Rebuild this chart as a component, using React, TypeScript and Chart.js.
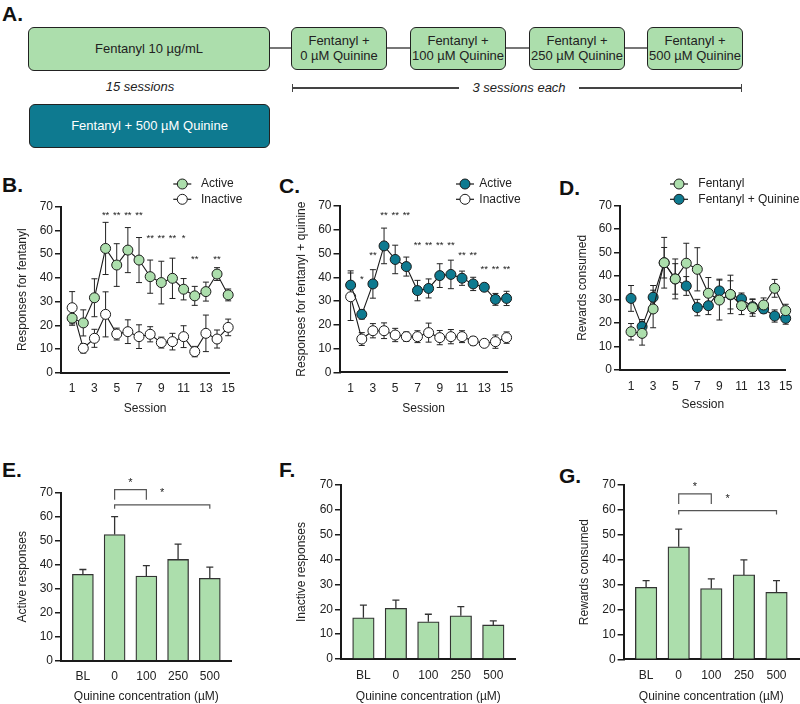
import React, { useEffect, useRef } from "react";
import { Chart, registerables } from "chart.js";

Chart.register(...registerables);

const FONT = '"Liberation Sans", Arial, Helvetica, sans-serif';
Chart.defaults.font.family = FONT;
const GREEN = "#ACDEAC";
const TEAL = "#0E7A90";
const INK = "#1a1a1a";

// ---------- data ----------
const sessions = [1, 2, 3, 4, 5, 6, 7, 8, 9, 10, 11, 12, 13, 14, 15];
const sessionTicks = [1, 3, 5, 7, 9, 11, 13, 15];
const yTicks = [0, 10, 20, 30, 40, 50, 60, 70];

const activeFent = [23, 21, 31.6, 52.4, 45.4, 51.7, 47.5, 40.5, 38, 39.8, 35.2, 32.4, 34.2, 41.6, 32.8];
const activeFentSem = [3, 5.5, 8, 11, 9, 9.5, 9.5, 7, 9, 8.5, 4.5, 4, 4, 2.7, 2.5];
const inactiveFent = [27.4, 10.3, 14.5, 24.6, 16.3, 17.3, 15.2, 16.2, 12.7, 13.1, 15.2, 8.9, 16.6, 14.2, 19.1];
const inactiveFentSem = [6.8, 2, 3.8, 9.5, 2.5, 5, 5, 3.2, 2.3, 3.5, 4.6, 2.2, 7.7, 3.8, 3.5];

const activeQuin = [36.7, 24.4, 37.2, 53.2, 47.5, 44.5, 34.4, 35.3, 40.7, 41.2, 39.6, 37.2, 35.8, 30.7, 31.1];
const activeQuinSem = [6, 2, 6, 7.5, 6, 4, 4.3, 4, 5, 6, 3, 2.8, 1.5, 2.5, 3];
const inactiveQuin = [31.8, 14, 17.5, 17.5, 15.7, 15, 15, 16.7, 14.6, 15, 15, 13.2, 12.2, 12.9, 14.6];
const inactiveQuinSem = [10, 2.7, 3, 3.3, 2.8, 2, 2.5, 4, 3, 3, 2.5, 1.8, 1, 2.8, 2.4];

const rewardsFent = [16.3, 15.6, 26, 45.7, 38.8, 45.5, 42.9, 32.7, 29.8, 32.2, 27.4, 26.6, 27.7, 34.8, 25.3];
const rewardsFentSem = [3.5, 5, 8, 10.8, 8.5, 8.5, 9.2, 6.7, 8.5, 8.2, 3.8, 3.7, 3, 3.8, 2.7];
const rewardsQuin = [30.5, 18.5, 31, 45.7, 38.8, 35.8, 26.6, 27.4, 33.7, 32, 30.3, 27, 26, 23, 22];
const rewardsQuinSem = [5.5, 3, 5, 6.5, 6.5, 4, 3.5, 3.8, 5, 6, 2.5, 3, 1.8, 2.6, 2.5];

const bStarX = [4, 5, 6, 7, 8, 9, 10, 11, 12, 14];
const bStarText = ["**", "**", "**", "**", "**", "**", "**", "*", "**", "**"];
const bStarY = [67.6, 67.6, 67.6, 67.6, 57.7, 57.7, 57.7, 57.7, 49, 49];

const cStarX = [2, 3, 4, 5, 6, 7, 8, 9, 10, 11, 12, 13, 14, 15];
const cStarText = ["*", "**", "**", "**", "**", "**", "**", "**", "**", "**", "**", "**", "**", "**"];
const cStarY = [40.3, 50.5, 67.2, 67.2, 67.2, 54.6, 54.6, 54.6, 54.6, 50.4, 50.4, 44.5, 44.5, 44.5];

const concLabels = ["BL", "0", "100", "250", "500"];
const concIndex = [0, 1, 2, 3, 4];
const activeResp = [36, 52.6, 35.3, 42.2, 34.3];
const activeRespSem = [2, 7.4, 4.3, 6.4, 4.7];
const inactiveResp = [16.6, 20.4, 15, 17.4, 13.7];
const inactiveRespSem = [5.1, 3.3, 3, 3.7, 1.6];
const rewardsConc = [28.9, 45.2, 28.4, 33.9, 26.9];
const rewardsConcSem = [2.7, 7.1, 3.9, 6, 4.7];

const eBrFrom = [1, 1];
const eBrTo = [2, 4];
const eBrTop = [71.3, 64.9];
const eBrLeg = [67.1, 63.3];
const eStarX = [1.5, 2.5];
const eStarY = [75.5, 71.1];

const gBrFrom = [1, 1];
const gBrTo = [2, 4];
const gBrTop = [66.4, 59.7];
const gBrLeg = [62.4, 58.2];
const gStarX = [1.5, 2.5];
const gStarY = [70.7, 65.7];

// ---------- plugins ----------
const errorBarPlugin = {
  id: "errorBars",
  beforeDatasetsDraw(chart: any) {
    const { ctx } = chart;
    const x = chart.scales.x;
    const y = chart.scales.y;
    ctx.save();
    chart.data.datasets.forEach((ds: any) => {
      if (!ds.errors) return;
      ctx.strokeStyle = ds.errorColor || "#222";
      ctx.lineWidth = ds.errorWidth || 1;
      const half = ds.capHalf || 3;
      ds.data.forEach((pt: any, j: number) => {
        const e = ds.errors[j];
        const px = x.getPixelForValue(pt.x);
        const yTop = y.getPixelForValue(pt.y + e);
        const yBot = ds.errorUpOnly ? y.getPixelForValue(pt.y) : y.getPixelForValue(pt.y - e);
        ctx.beginPath();
        ctx.moveTo(px, yBot);
        ctx.lineTo(px, yTop);
        ctx.moveTo(px - half, yTop);
        ctx.lineTo(px + half, yTop);
        if (!ds.errorUpOnly) {
          ctx.moveTo(px - half, yBot);
          ctx.lineTo(px + half, yBot);
        }
        ctx.stroke();
      });
    });
    ctx.restore();
  },
};

const annotPlugin = {
  id: "annot",
  afterDatasetsDraw(chart: any, _args: any, opts: any) {
    const { ctx } = chart;
    const x = chart.scales.x;
    const y = chart.scales.y;
    ctx.save();
    const brackets = opts.brackets || [];
    ctx.strokeStyle = "#555";
    ctx.lineWidth = 1.2;
    brackets.forEach((b: any) => {
      const x1 = x.getPixelForValue(b.from);
      const x2 = x.getPixelForValue(b.to);
      const yt = y.getPixelForValue(b.top);
      const yl = y.getPixelForValue(b.leg);
      ctx.beginPath();
      ctx.moveTo(x1, yl);
      ctx.lineTo(x1, yt);
      ctx.lineTo(x2, yt);
      ctx.lineTo(x2, yl);
      ctx.stroke();
    });
    const fs = opts.starSize || 10;
    ctx.fillStyle = "#222";
    ctx.font = `${fs}px ${FONT}`;
    ctx.textAlign = "center";
    ctx.textBaseline = "alphabetic";
    (opts.stars || []).forEach((s: any) => {
      ctx.fillText(s.text, x.getPixelForValue(s.x), y.getPixelForValue(s.y) + 0.58 * fs);
    });
    ctx.restore();
  },
};

const legendPlugin = {
  id: "customLegend",
  afterDraw(chart: any, _args: any, opts: any) {
    if (!opts.items) return;
    const { ctx } = chart;
    ctx.save();
    opts.items.forEach((it: any, i: number) => {
      const cy = opts.y0 + i * opts.dy;
      ctx.strokeStyle = INK;
      ctx.lineWidth = 1.2;
      ctx.beginPath();
      ctx.moveTo(opts.cx - 9, cy);
      ctx.lineTo(opts.cx + 9, cy);
      ctx.stroke();
      ctx.beginPath();
      ctx.arc(opts.cx, cy, 5, 0, Math.PI * 2);
      ctx.fillStyle = it.fill;
      ctx.fill();
      ctx.lineWidth = 1;
      ctx.stroke();
      ctx.fillStyle = "#222";
      ctx.font = `12px ${FONT}`;
      ctx.textAlign = "left";
      ctx.textBaseline = "middle";
      ctx.fillText(it.label, opts.textX, cy);
    });
    ctx.restore();
  },
};

// ---------- helpers ----------
type Rect = { x: number; y: number; w: number; h: number };
type Area = { L: number; T: number; R: number; B: number };

function frame(rect: Rect, area: Area, titleX: number, titleGap: number) {
  const xH = rect.y + rect.h - area.B;
  return {
    yW: area.L - rect.x,
    padT: area.T - rect.y,
    padR: rect.x + rect.w - area.R,
    xH,
    yTitlePad: titleX - rect.x - 7.2,
    xTitlePad: xH - 7.2 - titleGap,
  };
}

function yAxis(f: any, title: string) {
  return {
    type: "linear",
    min: 0,
    max: 70,
    afterBuildTicks: (ax: any) => {
      ax.ticks = yTicks.map((v) => ({ value: v }));
    },
    afterFit: (s: any) => {
      s.width = f.yW;
    },
    grid: { display: true, drawOnChartArea: false, drawTicks: true, tickLength: 6, color: INK, lineWidth: 1.5 },
    border: { display: true, color: INK, width: 2 },
    ticks: { color: "#222", font: { size: 12, family: FONT }, padding: 2 },
    title: {
      display: true,
      text: title,
      color: "#222",
      font: { size: 12, family: FONT },
      padding: { top: f.yTitlePad, bottom: 0 },
    },
  };
}

function xAxis(f: any, title: string, min: number, max: number, tickVals: number[], labelFn: (v: number) => string) {
  return {
    type: "linear",
    min,
    max,
    offset: false,
    afterBuildTicks: (ax: any) => {
      ax.ticks = tickVals.map((v) => ({ value: v }));
    },
    afterFit: (s: any) => {
      s.height = f.xH;
    },
    grid: { display: false, drawTicks: false, offset: false },
    border: { display: true, color: INK, width: 2 },
    ticks: {
      color: "#222",
      font: { size: 12, family: FONT },
      padding: 9,
      autoSkip: false,
      maxRotation: 0,
      callback: (v: any) => labelFn(Number(v)),
    },
    title: {
      display: true,
      text: title,
      color: "#222",
      font: { size: 12, family: FONT },
      padding: { top: 0, bottom: f.xTitlePad },
    },
  };
}

function lineDataset(vals: number[], sem: number[], fill: string) {
  return {
    data: sessions.map((s, i) => ({ x: s, y: vals[i] })),
    borderColor: INK,
    borderWidth: 1.1,
    pointRadius: 5,
    pointBackgroundColor: fill,
    pointBorderColor: INK,
    pointBorderWidth: 1,
    tension: 0,
    clip: false,
    errors: sem,
    errorColor: "#222",
    errorWidth: 1,
    capHalf: 3,
  };
}

function stars(xs: number[], ys: number[], texts: string[]) {
  return xs.map((x, i) => ({ x, y: ys[i], text: texts[i] }));
}

function brackets(from: number[], to: number[], top: number[], leg: number[]) {
  return from.map((f, i) => ({ from: f, to: to[i], top: top[i], leg: leg[i] }));
}

function lineConfig(rect: Rect, area: Area, titleX: number, titleGap: number, yTitle: string, datasets: any[], annot: any, legend: any) {
  const f = frame(rect, area, titleX, titleGap);
  return {
    type: "line",
    data: { datasets },
    options: {
      animation: false,
      responsive: false,
      devicePixelRatio: 1,
      events: [],
      layout: { padding: { left: 0, top: f.padT, right: f.padR, bottom: 0 } },
      scales: {
        x: xAxis(f, "Session", area === undefined ? 0 : 0, rect.x === 530 ? 15 : 15.1, sessionTicks, (v) => String(v)),
        y: yAxis(f, yTitle),
      },
      plugins: {
        legend: { display: false },
        tooltip: { enabled: false },
        annot,
        customLegend: legend,
      },
    },
    plugins: [errorBarPlugin, annotPlugin, legendPlugin],
  };
}

function barConfig(rect: Rect, area: Area, titleX: number, titleGap: number, yTitle: string, vals: number[], sem: number[], thick: number, annot: any) {
  const f = frame(rect, area, titleX, titleGap);
  return {
    type: "bar",
    data: {
      datasets: [
        {
          data: concIndex.map((i) => ({ x: i, y: vals[i] })),
          backgroundColor: GREEN,
          borderColor: "#333",
          borderWidth: 1.3,
          barThickness: thick,
          clip: false,
          errors: sem,
          errorUpOnly: true,
          errorColor: "#333",
          errorWidth: 1.3,
          capHalf: 3.5,
        },
      ],
    },
    options: {
      animation: false,
      responsive: false,
      devicePixelRatio: 1,
      events: [],
      layout: { padding: { left: 0, top: f.padT, right: f.padR, bottom: 0 } },
      scales: {
        x: xAxis(f, "Quinine concentration (\u00b5M)", -0.69, 4.69, concIndex, (v) => concLabels[v] ?? ""),
        y: yAxis(f, yTitle),
      },
      plugins: {
        legend: { display: false },
        tooltip: { enabled: false },
        annot,
        customLegend: {},
      },
    },
    plugins: [errorBarPlugin, annotPlugin, legendPlugin],
  };
}

function ChartBox({ rect, build }: { rect: Rect; build: () => any }) {
  const ref = useRef<HTMLCanvasElement>(null);
  useEffect(() => {
    const c = ref.current;
    if (!c) return;
    const chart = new Chart(c, build());
    return () => chart.destroy();
  }, []);
  return (
    <canvas
      ref={ref}
      width={rect.w}
      height={rect.h}
      style={{ position: "absolute", left: rect.x, top: rect.y, width: rect.w, height: rect.h }}
    />
  );
}

// ---------- layout ----------
const rB: Rect = { x: 0, y: 165, w: 270, h: 254 };
const aB: Area = { L: 61, T: 206.7, R: 229.3, B: 372.7 };
const rC: Rect = { x: 265, y: 165, w: 270, h: 254 };
const aC: Area = { L: 339.5, T: 206, R: 507.7, B: 372.3 };
const rD: Rect = { x: 530, y: 165, w: 300, h: 254 };
const aD: Area = { L: 620, T: 205.7, R: 785.7, B: 370 };
const rE: Rect = { x: 0, y: 450, w: 270, h: 258 };
const aE: Area = { L: 61, T: 492.7, R: 231.7, B: 660.7 };
const rF: Rect = { x: 265, y: 445, w: 270, h: 263 };
const aF: Area = { L: 341, T: 485, R: 515.7, B: 659 };
const rG: Rect = { x: 530, y: 445, w: 300, h: 263 };
const aG: Area = { L: 623.6, T: 485, R: 799, B: 659.3 };

const boxBase: React.CSSProperties = {
  position: "absolute",
  boxSizing: "border-box",
  border: "1.5px solid #222",
  borderRadius: 6,
  background: GREEN,
  display: "flex",
  alignItems: "center",
  justifyContent: "center",
  textAlign: "center",
  fontSize: 13,
  lineHeight: "14.5px",
  color: "#222",
};

function Letter({ t, left, top }: { t: string; left: number; top: number }) {
  return (
    <div style={{ position: "absolute", left, top, fontSize: 21, fontWeight: "bold", lineHeight: "21px", color: "#111" }}>
      {t}
    </div>
  );
}

function QBox({ left, conc }: { left: number; conc: string }) {
  return (
    <div style={{ ...boxBase, left, top: 27, width: 96, height: 43 }}>
      <div>
        Fentanyl +
        <br />
        {conc} {"\u00b5"}M Quinine
      </div>
    </div>
  );
}

function HLine({ x1, x2, y, color = "#777", h = 2 }: { x1: number; x2: number; y: number; color?: string; h?: number }) {
  return <div style={{ position: "absolute", left: x1, top: y - h / 2, width: x2 - x1, height: h, background: color }} />;
}

export default function App() {
  return (
    <div
      style={{
        position: "absolute",
        left: 0,
        top: 0,
        width: 800,
        height: 704,
        overflow: "hidden",
        background: "#fff",
        fontFamily: FONT,
        color: "#222",
      }}
    >
      {/* Panel A */}
      <Letter t="A." left={2} top={3} />
      <HLine x1={270} x2={291} y={48} />
      <HLine x1={387} x2={410} y={48} />
      <HLine x1={505} x2={529} y={48} />
      <HLine x1={624} x2={647} y={48} />
      <div style={{ ...boxBase, left: 28, top: 27, width: 242, height: 44 }}>Fentanyl 10 {"\u00b5"}g/mL</div>
      <QBox left={291} conc="0" />
      <QBox left={410} conc="100" />
      <QBox left={529} conc="250" />
      <QBox left={647} conc="500" />
      <div style={{ position: "absolute", left: 90, width: 100, top: 79, textAlign: "center", fontSize: 13, fontStyle: "italic", lineHeight: "16px" }}>
        15 sessions
      </div>
      <HLine x1={292} x2={459} y={88} color="#444" h={1.2} />
      <HLine x1={579} x2={742} y={88} color="#444" h={1.2} />
      <div style={{ position: "absolute", left: 292, top: 84, width: 1.2, height: 8, background: "#444" }} />
      <div style={{ position: "absolute", left: 741, top: 84, width: 1.2, height: 8, background: "#444" }} />
      <div style={{ position: "absolute", left: 459, width: 120, top: 80, textAlign: "center", fontSize: 13, fontStyle: "italic", lineHeight: "16px" }}>
        3 sessions each
      </div>
      <div style={{ ...boxBase, left: 29, top: 104, width: 241, height: 44, background: TEAL, color: "#fff" }}>
        Fentanyl + 500 {"\u00b5"}M Quinine
      </div>

      {/* Panel letters */}
      <Letter t="B." left={2} top={174} />
      <Letter t="C." left={279} top={175} />
      <Letter t="D." left={559} top={177} />
      <Letter t="E." left={2} top={459} />
      <Letter t="F." left={279} top={459} />
      <Letter t="G." left={559} top={465} />

      <ChartBox
        rect={rB}
        build={() =>
          lineConfig(
            rB,
            aB,
            23,
            35.6,
            "Responses for fentanyl",
            [lineDataset(activeFent, activeFentSem, GREEN), lineDataset(inactiveFent, inactiveFentSem, "#fff")],
            { stars: stars(bStarX, bStarY, bStarText), starSize: 9.5 },
            { items: [{ label: "Active", fill: GREEN }, { label: "Inactive", fill: "#fff" }], cx: 182.3, y0: 19, dy: 15.3, textX: 201 }
          )
        }
      />
      <ChartBox
        rect={rC}
        build={() =>
          lineConfig(
            rC,
            aC,
            301.7,
            36,
            "Responses for fentanyl + quinine",
            [lineDataset(activeQuin, activeQuinSem, TEAL), lineDataset(inactiveQuin, inactiveQuinSem, "#fff")],
            { stars: stars(cStarX, cStarY, cStarText), starSize: 9.5 },
            { items: [{ label: "Active", fill: TEAL }, { label: "Inactive", fill: "#fff" }], cx: 200, y0: 19, dy: 15.3, textX: 214.3 }
          )
        }
      />
      <ChartBox
        rect={rD}
        build={() =>
          lineConfig(
            rD,
            aD,
            582.5,
            35,
            "Rewards consumed",
            [lineDataset(rewardsFent, rewardsFentSem, GREEN), lineDataset(rewardsQuin, rewardsQuinSem, TEAL)],
            { stars: [] },
            { items: [{ label: "Fentanyl", fill: GREEN }, { label: "Fentanyl + Quinine", fill: TEAL }], cx: 149, y0: 19, dy: 15.3, textX: 168.3 }
          )
        }
      />
      <ChartBox
        rect={rE}
        build={() =>
          barConfig(rE, aE, 22.8, 36, "Active responses", activeResp, activeRespSem, 21, {
            stars: stars(eStarX, eStarY, ["*", "*"]),
            starSize: 11,
            brackets: brackets(eBrFrom, eBrTo, eBrTop, eBrLeg),
          })
        }
      />
      <ChartBox
        rect={rF}
        build={() => barConfig(rF, aF, 302, 37.7, "Inactive responses", inactiveResp, inactiveRespSem, 21.5, { stars: [] })}
      />
      <ChartBox
        rect={rG}
        build={() =>
          barConfig(rG, aG, 584.2, 37.4, "Rewards consumed", rewardsConc, rewardsConcSem, 21.5, {
            stars: stars(gStarX, gStarY, ["*", "*"]),
            starSize: 11,
            brackets: brackets(gBrFrom, gBrTo, gBrTop, gBrLeg),
          })
        }
      />
    </div>
  );
}
